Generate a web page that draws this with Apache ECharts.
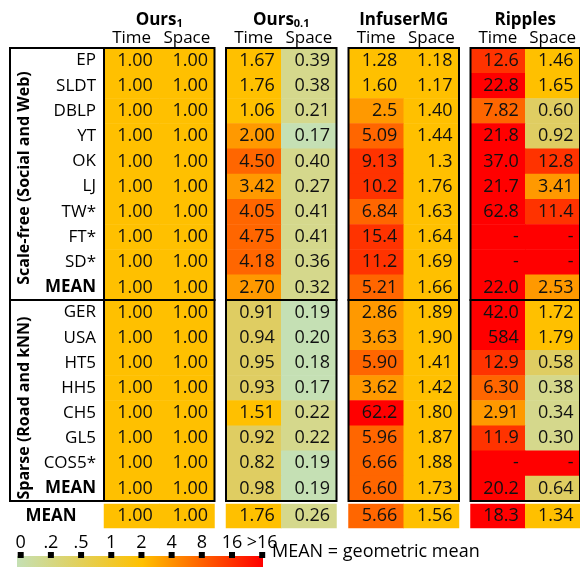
<!DOCTYPE html>
<html><head><meta charset="utf-8">
<script src="https://cdn.jsdelivr.net/npm/echarts@6/dist/echarts.min.js"></script>
<style>html,body{margin:0;padding:0;background:#fff}#c{width:580px;height:567px}</style>
</head><body><div id="c"></div>
<script>
// ---------- data ----------
const scaleFreeRows = ['EP','SLDT','DBLP','YT','OK','LJ','TW*','FT*','SD*','MEAN'];
const sparseRows = ['GER','USA','HT5','HH5','CH5','GL5','COS5*','MEAN'];
const overallRows = ['MEAN'];
const columns = ['Time','Space'];
const methodNames = ['Ours','Ours','InfuserMG','Ripples'];
const methodSubs = ['1','0.1','',''];
// each list: 10 scale-free rows, 8 sparse rows, 1 overall mean
const ours1Time   = ['1.00','1.00','1.00','1.00','1.00','1.00','1.00','1.00','1.00','1.00', '1.00','1.00','1.00','1.00','1.00','1.00','1.00','1.00', '1.00'];
const ours1Space  = ['1.00','1.00','1.00','1.00','1.00','1.00','1.00','1.00','1.00','1.00', '1.00','1.00','1.00','1.00','1.00','1.00','1.00','1.00', '1.00'];
const ours01Time  = ['1.67','1.76','1.06','2.00','4.50','3.42','4.05','4.75','4.18','2.70', '0.91','0.94','0.95','0.93','1.51','0.92','0.82','0.98', '1.76'];
const ours01Space = ['0.39','0.38','0.21','0.17','0.40','0.27','0.41','0.41','0.36','0.32', '0.19','0.20','0.18','0.17','0.22','0.22','0.19','0.19', '0.26'];
const infuserTime = ['1.28','1.60','2.5','5.09','9.13','10.2','6.84','15.4','11.2','5.21', '2.86','3.63','5.90','3.62','62.2','5.96','6.66','6.60', '5.66'];
const infuserSpace= ['1.18','1.17','1.40','1.44','1.3','1.76','1.63','1.64','1.69','1.66', '1.89','1.90','1.41','1.42','1.80','1.87','1.88','1.73', '1.56'];
const ripplesTime = ['12.6','22.8','7.82','21.8','37.0','21.7','62.8','-','-','22.0', '42.0','584','12.9','6.30','2.91','11.9','-','20.2', '18.3'];
const ripplesSpace= ['1.46','1.65','0.60','0.92','12.8','3.41','11.4','-','-','2.53', '1.72','1.79','0.58','0.38','0.34','0.30','-','0.64', '1.34'];
const legendTicks = ['0','.2','.5','1','2','4','8','16','>16'];
const binEdges = [0.2, 0.5, 1, 2, 4, 8, 16];
const binColors = ['#c5e0b4','#d5d88c','#dfcd62','#ffc000','#ff9900','#ff6600','#ff3300','#ff0000'];

// ---------- build ----------
const FONT = '"Open Sans", "Noto Sans", sans-serif';
const blockValues = [[ours1Time, ours1Space],[ours01Time, ours01Space],[infuserTime, infuserSpace],[ripplesTime, ripplesSpace]];
const groups = [scaleFreeRows, sparseRows, overallRows];
const groupOffset = [0, scaleFreeRows.length, scaleFreeRows.length + sparseRows.length];
const blockLeft = [104, 226, 348.5, 470.5];
const blockWidth = [110.5, 110.5, 110.5, 113];
const groupTop = [48, 300, 504];
const groupHeight = [252, 201, 24];

const grids = [], xAxes = [], yAxes = [], series = [];
blockValues.forEach((vals, bi) => {
  groups.forEach((rows, gi) => {
    const gIdx = grids.length;
    grids.push({
      left: blockLeft[bi], top: groupTop[gi], width: gi === 2 ? 110.5 : blockWidth[bi], height: groupHeight[gi],
      show: gi < 2, borderColor: '#000', borderWidth: 2, backgroundColor: 'transparent', z: 5
    });
    const title = methodSubs[bi] ? '{t|' + methodNames[bi] + '}{s|' + methodSubs[bi] + '}' : '{t|' + methodNames[bi] + '}';
    xAxes.push({
      type: 'category', data: columns, gridIndex: gIdx, position: 'top',
      axisLine: {show: false}, axisTick: {show: false}, splitLine: {show: false},
      axisLabel: {show: gi === 0, interval: 0, fontSize: 17, color: '#000', fontFamily: FONT, margin: 1},
      name: gi === 0 ? title : '', nameLocation: 'middle', nameGap: 19,
      nameTextStyle: {color: '#000', rich: {
        t: {fontSize: 17, fontWeight: 'bold', fontFamily: FONT, color: '#000'},
        s: {fontSize: 11, fontWeight: 'bold', fontFamily: FONT, color: '#000', verticalAlign: 'bottom', padding: [6, 0, 0, 0]}
      }}
    });
    yAxes.push({
      type: 'category', data: rows, gridIndex: gIdx, inverse: true,
      axisLine: {show: false}, axisTick: {show: false}, splitLine: {show: false},
      axisLabel: {
        show: bi === 0, interval: 0, fontSize: 17, color: '#000', fontFamily: FONT,
        margin: gi === 2 ? 53 : 8, align: gi === 2 ? 'center' : 'right',
        formatter: v => v === 'MEAN' ? '{b|MEAN}' : v,
        rich: {b: {fontSize: 17, fontWeight: 'bold', fontFamily: FONT, color: '#000'}}
      }
    });
    const data = [];
    rows.forEach((r, ri) => {
      vals.forEach((col, ci) => {
        const s = col[groupOffset[gi] + ri];
        const num = s === '-' ? Infinity : parseFloat(s);
        data.push([ci, ri, num, s]);
      });
    });
    series.push({
      type: 'heatmap', xAxisIndex: gIdx, yAxisIndex: gIdx, data: data,
      itemStyle: {borderWidth: 0},
      label: {show: true, position: ['88%', '50%'], align: 'right', verticalAlign: 'middle',
        fontSize: 18, color: '#111', fontFamily: FONT, formatter: p => p.data[3]},
      emphasis: {disabled: true}
    });
  });
});

// legend scale grid
const lgIdx = grids.length;
grids.push({left: 20.7, width: 241.5, top: 552, height: 6});
xAxes.push({type: 'category', data: legendTicks, gridIndex: lgIdx, position: 'top', boundaryGap: false,
  axisLine: {show: false}, axisTick: {show: false}, splitLine: {show: false},
  axisLabel: {fontSize: 18, color: '#000', fontFamily: FONT, margin: 0, interval: 0}});
yAxes.push({type: 'value', gridIndex: lgIdx, min: 0, max: 1, show: false});
series.push({type: 'scatter', xAxisIndex: lgIdx, yAxisIndex: lgIdx, symbol: 'rect', symbolSize: [6, 6],
  itemStyle: {color: '#000', opacity: 1}, data: legendTicks.map((t, i) => [i, 0.5]), silent: true, z: 6, clip: false});

const pieces = [{lte: binEdges[0], color: binColors[0]}];
for (let i = 1; i < binEdges.length; i++) {
  pieces.push(i === 1 ? {gt: binEdges[0], lt: binEdges[1], color: binColors[1]} : {gte: binEdges[i - 1], lt: binEdges[i], color: binColors[i]});
}
pieces.push({gte: binEdges[binEdges.length - 1], color: binColors[binColors.length - 1]});

const chart = echarts.init(document.getElementById('c'), null, {renderer: 'canvas'});
chart.setOption({
  animation: false,
  backgroundColor: '#fff',
  grid: grids, xAxis: xAxes, yAxis: yAxes, series: series,
  visualMap: {type: 'piecewise', show: false, dimension: 2, pieces: pieces,
    seriesIndex: series.map((s, i) => i).filter(i => series[i].type === 'heatmap')},
  graphic: [
    {type: 'rect', shape: {x: 10, y: 48, width: 94, height: 453}, style: {fill: 'none', stroke: '#000', lineWidth: 2}, z: 10},
    {type: 'line', shape: {x1: 10, y1: 300, x2: 104, y2: 300}, style: {stroke: '#000', lineWidth: 2}, z: 10},
    {type: 'text', x: 24, y: 178, rotation: Math.PI / 2, z: 10,
      style: {text: 'Scale-free (Social and Web)', fontSize: 16, fontWeight: 'bold', fontFamily: FONT, fill: '#000', align: 'center', verticalAlign: 'middle'}},
    {type: 'text', x: 24, y: 408, rotation: Math.PI / 2, z: 10,
      style: {text: 'Sparse (Road and kNN)', fontSize: 16, fontWeight: 'bold', fontFamily: FONT, fill: '#000', align: 'center', verticalAlign: 'middle'}},
    {type: 'rect', shape: {x: 17, y: 556, width: 246, height: 11}, z: -10, zlevel: 0,
      style: {fill: new echarts.graphic.LinearGradient(0, 0, 1, 0, [
        {offset: 0, color: '#c5e0b4'}, {offset: 0.51, color: '#ffc000'}, {offset: 1, color: '#ff0000'}])}},
    {type: 'text', x: 272, y: 552, z: 10,
      style: {text: 'MEAN = geometric mean', fontSize: 18, fontFamily: FONT, fill: '#000', align: 'left', verticalAlign: 'middle'}}
  ]
});
</script></body></html>
